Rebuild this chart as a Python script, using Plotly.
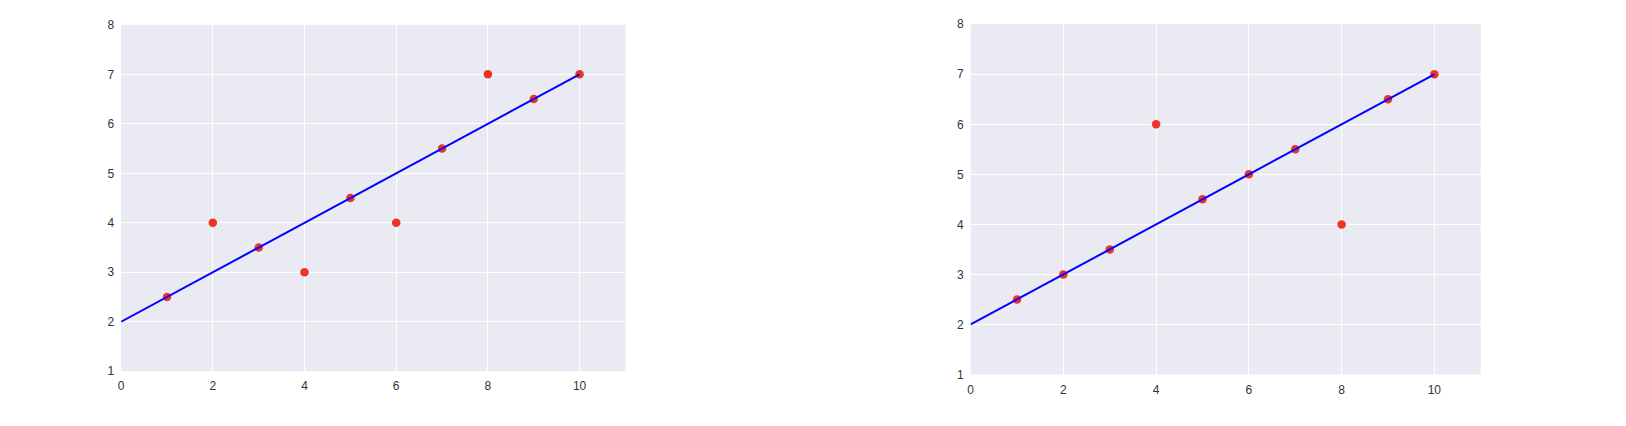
import plotly.graph_objects as go

xs = [1, 2, 3, 4, 5, 6, 7, 8, 9, 10]
left_y = [2.5, 4, 3.5, 3, 4.5, 4, 5.5, 7, 6.5, 7]
right_y = [2.5, 3, 3.5, 6, 4.5, 5, 5.5, 4, 6.5, 7]
fit_x = [0, 10]
fit_y = [2, 7]

fig = go.Figure()

for ys, xa, ya in [(left_y, "x", "y"), (right_y, "x2", "y2")]:
    fig.add_trace(go.Scatter(
        x=xs, y=ys, mode="markers", xaxis=xa, yaxis=ya,
        marker=dict(color="#ee3325", size=8.5, line=dict(width=0)),
        showlegend=False
    ))
    fig.add_trace(go.Scatter(
        x=fit_x, y=fit_y, mode="lines", xaxis=xa, yaxis=ya,
        line=dict(color="#0000ff", width=2),
        showlegend=False
    ))

axis_style = dict(
    showgrid=True, gridcolor="white", gridwidth=1,
    zeroline=False, showline=False, ticks="",
    ticklabelstandoff=6,
    tickfont=dict(family="Liberation Sans", size=12, color="#333333"),
)

fig.update_layout(
    width=1626, height=426,
    margin=dict(l=0, r=0, t=0, b=0),
    paper_bgcolor="white",
    plot_bgcolor="#eaeaf2",
    xaxis=dict(domain=[0.0728, 0.3835], range=[0, 11], dtick=2, anchor="y", **axis_style),
    yaxis=dict(domain=[0.1160, 0.9566], range=[1, 8], dtick=1, anchor="x", **axis_style),
    xaxis2=dict(domain=[0.5962, 0.9105], range=[0, 11], dtick=2, anchor="y2", **axis_style),
    yaxis2=dict(domain=[0.1080, 0.9582], range=[1, 8], dtick=1, anchor="x2", **axis_style),
)

# drop the page's default body margin so the figure sits at the window corner
fig.write_html("out.html", config={"displayModeBar": False},
               post_script="document.body.style.margin='0';")
